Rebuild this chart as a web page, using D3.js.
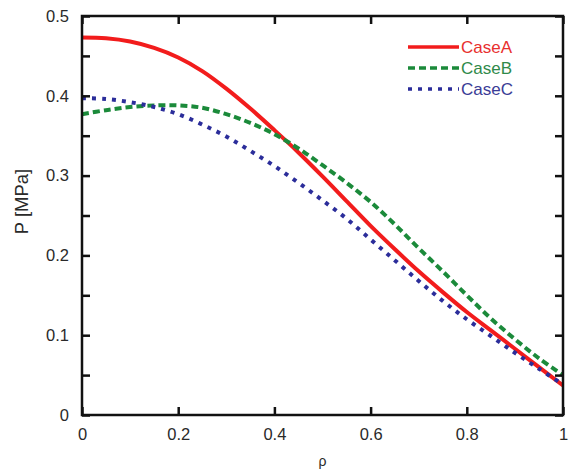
<!DOCTYPE html>
<html>
<head>
<meta charset="utf-8">
<script src="https://cdn.jsdelivr.net/npm/d3@7"></script>
<style>
  html, body { margin: 0; padding: 0; background: #fff; }
  svg { display: block; font-family: "Liberation Sans", Arial, sans-serif; }
</style>
</head>
<body>
<svg id="chart" width="570" height="470"></svg>
<script>
// Normalised radius ρ
const rho = [0, 0.05, 0.1, 0.15, 0.2, 0.25, 0.3, 0.35, 0.4, 0.45, 0.5,
             0.55, 0.6, 0.65, 0.7, 0.75, 0.8, 0.85, 0.9, 0.95, 1];

// Pressure profiles [MPa]
const caseA = [0.473, 0.472, 0.468, 0.460, 0.448, 0.431, 0.409, 0.384, 0.357, 0.329, 0.299,
               0.268, 0.237, 0.208, 0.180, 0.154, 0.129, 0.106, 0.083, 0.060, 0.037];
const caseB = [0.377, 0.382, 0.386, 0.388, 0.388, 0.385, 0.377, 0.366, 0.352, 0.334, 0.313,
               0.291, 0.267, 0.239, 0.209, 0.180, 0.150, 0.121, 0.095, 0.071, 0.050];
const caseC = [0.397, 0.396, 0.392, 0.386, 0.377, 0.364, 0.349, 0.331, 0.312, 0.291, 0.269,
               0.246, 0.220, 0.194, 0.168, 0.143, 0.120, 0.099, 0.078, 0.058, 0.038];

const seriesNames = ["CaseA", "CaseB", "CaseC"];
const seriesValues = [caseA, caseB, caseC];

const xTicks = [0, 0.2, 0.4, 0.6, 0.8, 1];
const yTicks = [0, 0.05, 0.1, 0.15, 0.2, 0.25, 0.3, 0.35, 0.4, 0.45, 0.5];
const yTickLabels = ["0", "", "0.1", "", "0.2", "", "0.3", "", "0.4", "", "0.5"];
const xTickLabels = ["0", "0.2", "0.4", "0.6", "0.8", "1"];

const styles = {
  CaseA: { color: "#f21c1c", dash: null,  text: "#e8302e" },
  CaseB: { color: "#1b8a3a", dash: "7,4", text: "#2f8a4a" },
  CaseC: { color: "#2b2d9a", dash: "4,6", text: "#3a3c96" }
};

const svg = d3.select("#chart");
const m = { left: 82, right: 7, top: 16, bottom: 55 };
const W = 570 - m.left - m.right;
const H = 470 - m.top - m.bottom;

const x = d3.scaleLinear().domain([0, 1]).range([0, W]);
const y = d3.scaleLinear().domain([0, 0.5]).range([H, 0]);

const g = svg.append("g").attr("transform", `translate(${m.left},${m.top})`);

// Curves
const line = d3.line()
  .x((d, i) => x(rho[i]))
  .y(d => y(d))
  .curve(d3.curveCatmullRom.alpha(0.5));

seriesNames.forEach((name, k) => {
  const s = styles[name];
  g.append("path")
    .datum(seriesValues[k])
    .attr("fill", "none")
    .attr("stroke", s.color)
    .attr("stroke-width", 4)
    .attr("stroke-dasharray", s.dash)
    .attr("d", line);
});

// Axes with inward ticks on all four sides
const tickLen = 8;
const axisColor = "#111";

const axisB = g.append("g").attr("transform", `translate(0,${H})`)
  .call(d3.axisBottom(x).tickValues(xTicks).tickSize(-tickLen).tickPadding(13)
    .tickFormat((d, i) => xTickLabels[i]));
const axisT = g.append("g")
  .call(d3.axisTop(x).tickValues(xTicks).tickSize(-tickLen).tickFormat(""));
const axisL = g.append("g")
  .call(d3.axisLeft(y).tickValues(yTicks).tickSize(-tickLen).tickPadding(13)
    .tickFormat((d, i) => yTickLabels[i]));
const axisR = g.append("g").attr("transform", `translate(${W},0)`)
  .call(d3.axisRight(y).tickValues(yTicks).tickSize(-tickLen).tickFormat(""));

[axisB, axisT, axisL, axisR].forEach(a => {
  a.select(".domain").remove();
  a.selectAll(".tick line").attr("stroke", axisColor).attr("stroke-width", 2.5);
  a.selectAll(".tick text").attr("fill", "#2a2a2a").style("font-size", "16.5px");
});

// Frame
g.append("rect")
  .attr("x", 0).attr("y", 0).attr("width", W).attr("height", H)
  .attr("fill", "none").attr("stroke", axisColor).attr("stroke-width", 2.5);

// Axis titles
svg.append("text")
  .attr("transform", `translate(28,${m.top + H / 2 - 14}) rotate(-90)`)
  .attr("text-anchor", "middle")
  .attr("fill", "#2a2a2a")
  .style("font-size", "18.5px")
  .text("P [MPa]");

svg.append("text")
  .attr("x", m.left + W / 2).attr("y", 466)
  .attr("text-anchor", "middle")
  .attr("fill", "#2a2a2a")
  .style("font-size", "14px")
  .text("ρ");

// Legend
const legend = svg.append("g").attr("transform", "translate(408,47)");
seriesNames.forEach((name, k) => {
  const s = styles[name];
  const row = legend.append("g").attr("transform", `translate(0,${k * 21})`);
  row.append("line")
    .attr("x1", 0).attr("x2", 51).attr("y1", 0).attr("y2", 0)
    .attr("stroke", s.color).attr("stroke-width", 3.5)
    .attr("stroke-dasharray", s.dash);
  row.append("text")
    .attr("x", 53).attr("y", 6)
    .attr("fill", s.text)
    .style("font-size", "17px")
    .text(name);
});
</script>
</body>
</html>
